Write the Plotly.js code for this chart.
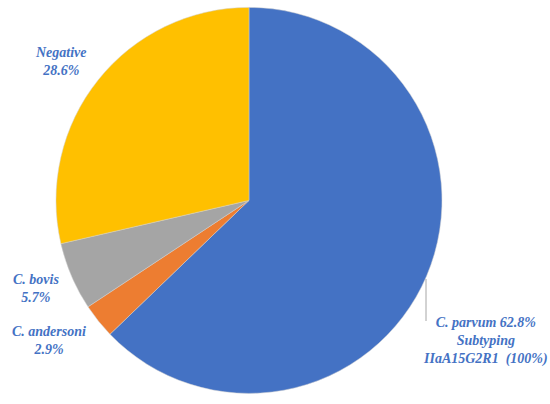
<!DOCTYPE html>
<html>
<head>
<meta charset="utf-8">
<script src="https://cdn.plot.ly/plotly-3.0.1.min.js"></script>
<style>html,body{margin:0;padding:0;background:#fff;}#chart{width:550px;height:404px;}</style>
</head>
<body>
<div id="chart"></div>
<script>
var categories = ["C. parvum", "C. andersoni", "C. bovis", "Negative"];
var values = [62.8, 2.9, 5.7, 28.6];
var colors = ["#4472C4", "#ED7D31", "#A5A5A5", "#FFC000"];
var labelTexts = [
  "C. parvum 62.8%<br>Subtyping<br>IIaA15G2R1  (100%)",
  "C. andersoni<br>2.9%",
  "C. bovis<br>5.7%",
  "Negative<br>28.6%"
];

var labelFont = {family: "Liberation Serif", size: 14, color: "#4472C4"};

var trace = {
  type: "pie",
  labels: categories,
  values: values,
  sort: false,
  direction: "clockwise",
  rotation: 0,
  textinfo: "none",
  hoverinfo: "label+percent",
  marker: {colors: colors, line: {color: "#d0d0d0", width: 0.5}},
  domain: {x: [0.1018, 0.8036], y: [0.025, 0.983]},
  showlegend: false
};

var pos = [
  {x: 485, y: 341},
  {x: 49, y: 340},
  {x: 36, y: 288},
  {x: 61, y: 61}
];

var annotations = labelTexts.map(function (t, i) {
  return {
    xref: "paper", yref: "paper",
    x: pos[i].x / 550, y: 1 - pos[i].y / 404,
    xanchor: "center", yanchor: "middle",
    text: "<b><i>" + t + "</i></b>",
    showarrow: false,
    font: labelFont
  };
});

var layout = {
  width: 550, height: 404,
  margin: {l: 0, r: 0, t: 0, b: 0},
  paper_bgcolor: "#ffffff",
  annotations: annotations,
  shapes: [{
    type: "line", xref: "paper", yref: "paper",
    x0: 426 / 550, x1: 426 / 550, y0: 1 - 279 / 404, y1: 1 - 321 / 404,
    line: {color: "#A6A6A6", width: 1}
  }]
};

Plotly.newPlot("chart", [trace], layout, {displayModeBar: false, staticPlot: true});
</script>
</body>
</html>
